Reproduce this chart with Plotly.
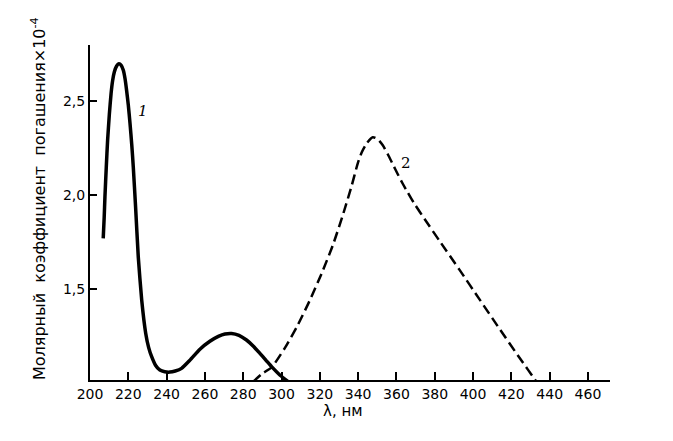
import plotly.graph_objects as go

# Curve 1 (solid)
x1 = [206.9, 207.4, 207.8, 208.5, 209.2, 210.1, 211.0, 211.8, 212.7, 213.9, 215.1, 216.3, 217.4,
      218.3, 219.1, 220.0, 220.9, 221.8, 222.6, 223.8, 225.2, 227.0, 229.1, 230.6, 232.2, 234.2,
      236.5, 239.0, 241.7, 244.5, 247.8, 252.2, 257.4, 262.6, 267.0, 270.5, 273.9, 277.8, 281.7,
      285.3, 288.7, 291.8, 294.8, 299.1, 303.5]
y1 = [1.770, 1.880, 1.991, 2.150, 2.293, 2.430, 2.541, 2.610, 2.656, 2.688, 2.700, 2.692, 2.665,
      2.620, 2.559, 2.480, 2.381, 2.270, 2.150, 1.938, 1.672, 1.441, 1.264, 1.190, 1.140, 1.095,
      1.069, 1.060, 1.058, 1.064, 1.078, 1.122, 1.180, 1.222, 1.248, 1.261, 1.264, 1.254, 1.229,
      1.196, 1.158, 1.122, 1.087, 1.043, 1.007]

# Curve 2 (dashed)
x2 = [285.0, 289.7, 294.95, 301.7, 308.5, 314.8, 321.0, 326.8, 332.0, 336.7, 339.8, 341.9, 344.5,
      347.65, 350.26, 352.87, 355.48, 358.09, 360.70, 363.30, 365.91, 369.56, 374.78, 382.61,
      393.04, 403.48, 413.91, 424.35, 433.22, 436.35]
y2 = [1.005, 1.048, 1.085, 1.186, 1.309, 1.441, 1.585, 1.734, 1.894, 2.053, 2.170, 2.229, 2.277,
      2.309, 2.298, 2.266, 2.218, 2.165, 2.112, 2.061, 2.014, 1.952, 1.872, 1.755,
      1.601, 1.444, 1.287, 1.133, 1.005, 0.957]

x_ticks = [200, 220, 240, 260, 280, 300, 320, 340, 360, 380, 400, 420, 440, 460]
y_ticks = [1.5, 2.0, 2.5]
y_tick_text = ["1,5", "2,0", "2,5"]

FONT = "DejaVu Sans"

fig = go.Figure()
fig.add_trace(go.Scatter(x=x1, y=y1, mode="lines",
                         line=dict(color="black", width=3.5, shape="spline", smoothing=0.5),
                         showlegend=False, hoverinfo="skip"))
fig.add_trace(go.Scatter(x=x2, y=y2, mode="lines",
                         line=dict(color="black", width=2.5, dash="10px,5px", shape="spline", smoothing=0.6),
                         showlegend=False, hoverinfo="skip"))

# page body has an 8px margin: figure is sized/offset so plot area lands at x 90..610, y 45..380
fig.update_layout(
    width=665, height=433,
    margin=dict(l=82, r=63, t=37, b=61),
    paper_bgcolor="white", plot_bgcolor="white",
    font=dict(family=FONT, color="black", size=14),
    xaxis=dict(range=[200, 471.5], tickvals=x_ticks, ticktext=[str(v) for v in x_ticks],
               ticks="inside", ticklen=8, tickwidth=1.5, tickcolor="black",
               showline=True, linecolor="black", linewidth=2, showgrid=False, zeroline=False,
               tickfont=dict(size=14, family=FONT)),
    yaxis=dict(range=[1.016, 2.80], tickvals=y_ticks, ticktext=y_tick_text,
               ticks="inside", ticklen=7, tickwidth=1.5, tickcolor="black",
               showline=True, linecolor="black", linewidth=2, showgrid=False, zeroline=False,
               tickfont=dict(size=14, family=FONT)),
    annotations=[
        dict(text="λ, нм", xref="paper", yref="paper", x=(343 - 90) / 520, y=-(411 - 380) / 335,
             showarrow=False, font=dict(size=15, family=FONT), xanchor="center", yanchor="middle"),
        dict(text="Молярный\u00a0\u00a0коэффициент\u00a0\u00a0погашения×10<sup>-4</sup>",
             xref="paper", yref="paper", x=(38 - 90) / 520, y=(380 - 199) / 335,
             textangle=-90, showarrow=False, font=dict(size=16, family=FONT),
             xanchor="center", yanchor="middle"),
        dict(text="<i>1</i>", x=227.7, y=2.45, showarrow=False, font=dict(size=15, family="DejaVu Serif")),
        dict(text="2", x=364.9, y=2.17, showarrow=False, font=dict(size=15, family="DejaVu Serif")),
    ],
)

fig.write_html("out.html")
